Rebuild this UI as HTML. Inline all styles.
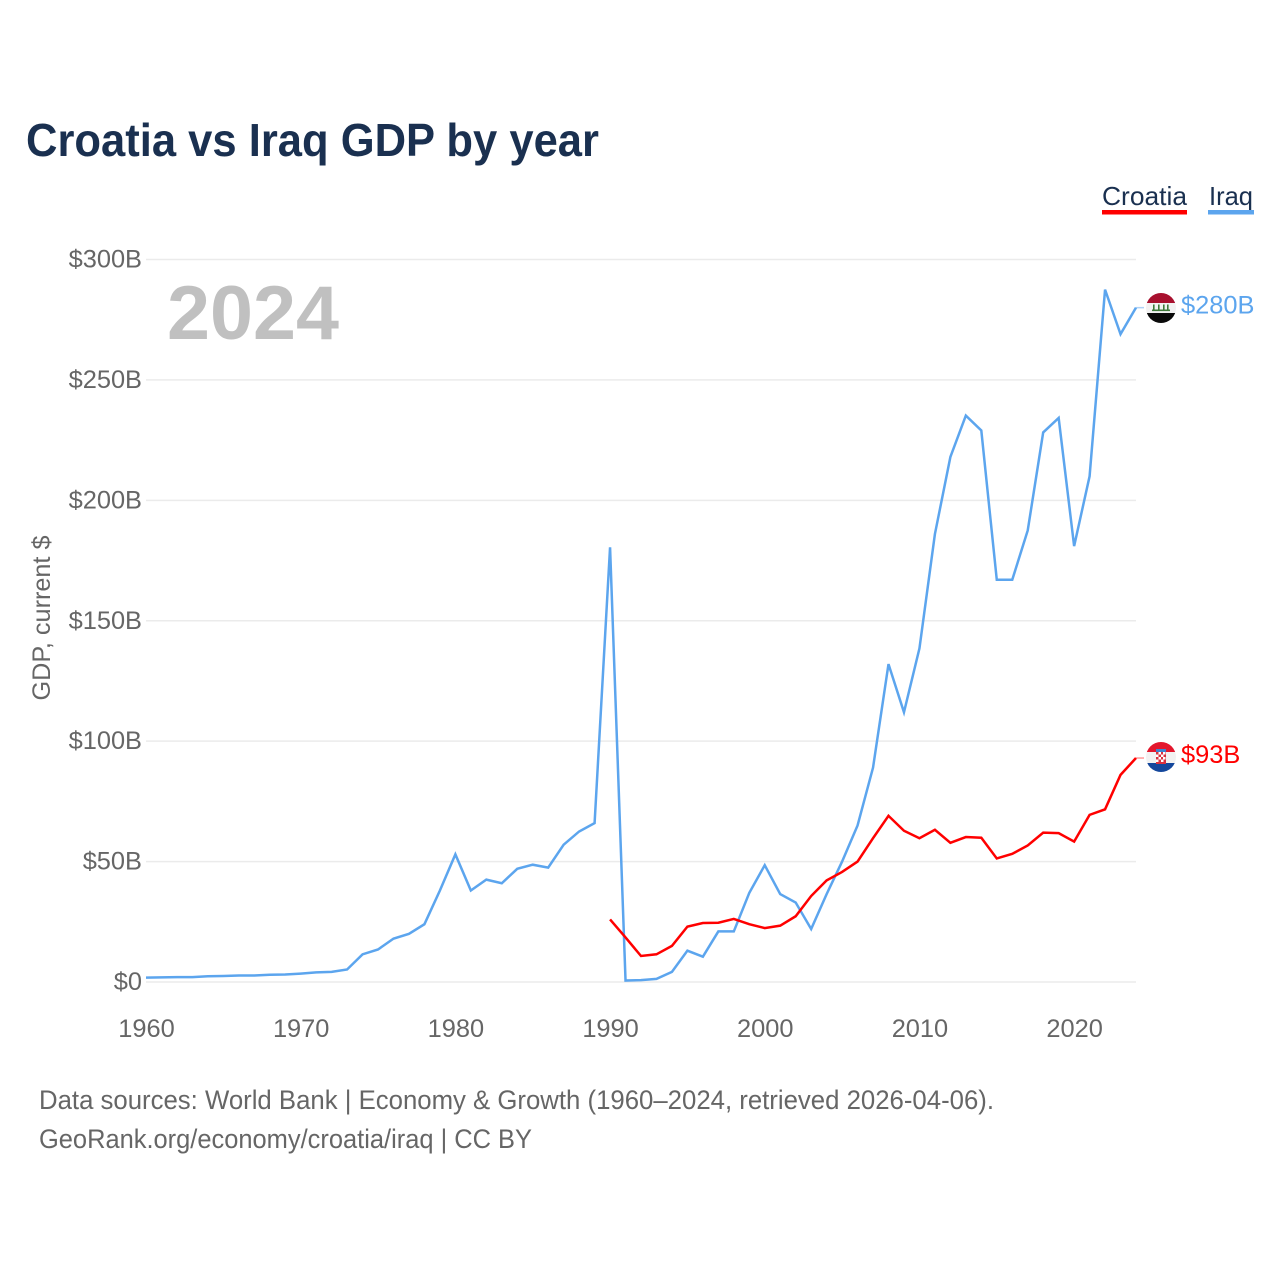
<!DOCTYPE html>
<html lang="en">
<head>
<meta charset="utf-8">
<title>Croatia vs Iraq GDP by year</title>
<style>
html,body{margin:0;padding:0;background:#fff}
svg{display:block;font-family:"Liberation Sans",sans-serif}
</style>
</head>
<body>
<svg id="chart" width="1280" height="1280" viewBox="0 0 1280 1280" xmlns="http://www.w3.org/2000/svg">
  <defs>
    <clipPath id="iraq-clip"><circle cx="1161" cy="308" r="15"/></clipPath>
    <clipPath id="croatia-clip"><circle cx="1161" cy="757" r="15"/></clipPath>
  </defs>
  <rect width="1280" height="1280" fill="#fff"/>
  <text x="26" y="156" font-size="46" font-weight="700" fill="#1a3050" textLength="573" lengthAdjust="spacingAndGlyphs">Croatia vs Iraq GDP by year</text>

  <g>
    <text x="1102" y="205" font-size="26" fill="#1a3050" textLength="85" lengthAdjust="spacingAndGlyphs">Croatia</text>
    <rect x="1102" y="210" width="85" height="4.5" fill="#ff0000"/>
  </g>
  <g>
    <text x="1209" y="205" font-size="26" fill="#1a3050" textLength="44" lengthAdjust="spacingAndGlyphs">Iraq</text>
    <rect x="1208" y="210" width="46" height="4.5" fill="#5ca5ee"/>
  </g>

  <text transform="translate(50,618) rotate(-90)" text-anchor="middle" font-size="25" fill="#666" textLength="165" lengthAdjust="spacingAndGlyphs">GDP, current $</text>

  <g id="grid"></g>
  <g id="yticks"></g>
  <g id="xticks"></g>

  <text x="167" y="339" font-size="76" font-weight="700" fill="#c0c0c0" textLength="172" lengthAdjust="spacingAndGlyphs">2024</text>

  <g id="series"></g>

  <g clip-path="url(#iraq-clip)">
    <rect x="1146" y="293" width="30" height="10" fill="#a8102e"/>
    <rect x="1146" y="303" width="30" height="10" fill="#f2f2f2"/>
    <rect x="1146" y="313" width="30" height="10" fill="#0a0a0a"/>
    <rect x="1152" y="309.5" width="18" height="1.6" fill="#3f7a3a"/>
    <rect x="1153" y="304.5" width="1.6" height="6" fill="#3f7a3a"/>
    <rect x="1158" y="304.5" width="1.6" height="6" fill="#3f7a3a"/>
    <rect x="1163" y="304.5" width="1.6" height="6" fill="#3f7a3a"/>
    <rect x="1167" y="304.5" width="1.6" height="6" fill="#3f7a3a"/>
  </g>
  <g clip-path="url(#croatia-clip)">
    <rect x="1146" y="742" width="30" height="10" fill="#e3172d"/>
    <rect x="1146" y="752" width="30" height="11" fill="#f2f2f2"/>
    <rect x="1146" y="763" width="30" height="9" fill="#14479c"/>
    <rect x="1156" y="749" width="10" height="3" fill="#3f84d0"/>
    <rect x="1156" y="752" width="10" height="12" fill="#d9313f"/>
    <rect x="1158.500" y="752" width="2.500" height="2.500" fill="#fff"/>
    <rect x="1163" y="752" width="2.500" height="2.500" fill="#fff"/>
    <rect x="1156" y="754.500" width="2.500" height="2.500" fill="#fff"/>
    <rect x="1161" y="754.500" width="2.500" height="2.500" fill="#fff"/>
    <rect x="1158.500" y="757" width="2.500" height="2.500" fill="#fff"/>
    <rect x="1163" y="757" width="2.500" height="2.500" fill="#fff"/>
    <rect x="1156" y="759.500" width="2.500" height="2.500" fill="#fff"/>
    <rect x="1161" y="759.500" width="2.500" height="2.500" fill="#fff"/>
  </g>

  <text x="39" y="1109" font-size="27" fill="#666" textLength="955" lengthAdjust="spacingAndGlyphs">Data sources: World Bank | Economy &amp; Growth (1960–2024, retrieved 2026-04-06).</text>
  <text x="39" y="1148" font-size="27" fill="#666" textLength="493" lengthAdjust="spacingAndGlyphs">GeoRank.org/economy/croatia/iraq | CC BY</text>
</svg>
<script>
const yTicks = [0, 50, 100, 150, 200, 250, 300];
const yTickLabels = ["$0", "$50B", "$100B", "$150B", "$200B", "$250B", "$300B"];
const xTicks = [1960, 1970, 1980, 1990, 2000, 2010, 2020];
const iraqStartYear = 1960;
const croatiaStartYear = 1990;
const iraqValues = [1.8, 1.9, 2.0, 2.0, 2.4, 2.5, 2.7, 2.7, 3.0, 3.1, 3.5, 4.0, 4.2, 5.2, 11.5, 13.5, 18, 20, 24, 38, 53, 38, 42.5, 41, 47, 48.7, 47.5, 57, 62.5, 66, 180.5, 0.6, 0.8, 1.3, 4.2, 13, 10.5, 21, 21, 37, 48.5, 36.5, 33, 22, 36.5, 50, 65, 89, 132, 112, 138.5, 186, 218, 235.2, 229, 167, 167, 187.5, 228.2, 234.2, 181, 210, 287.5, 269, 280];
const croatiaValues = [26, 18.5, 10.8, 11.5, 15, 23, 24.5, 24.6, 26.2, 24, 22.4, 23.4, 27.3, 35.7, 42.2, 45.7, 50, 59.7, 69, 62.8, 59.7, 63.2, 57.8, 60.2, 59.9, 51.3, 53.2, 56.7, 62, 61.8, 58.3, 69.4, 71.7, 86, 93];

const NS = "http://www.w3.org/2000/svg";
const xScale = function (year) { return 146 + (year - 1960) * (990 / 64); };
const yScale = function (v) { return 982 - v * (722.5 / 300); };

const grid = document.getElementById("grid");
const yG = document.getElementById("yticks");
const xG = document.getElementById("xticks");
const series = document.getElementById("series");

yTicks.forEach(function (v, i) {
  const line = document.createElementNS(NS, "line");
  line.setAttribute("x1", 146);
  line.setAttribute("x2", 1136);
  line.setAttribute("y1", yScale(v));
  line.setAttribute("y2", yScale(v));
  line.setAttribute("stroke", "#ebebeb");
  line.setAttribute("stroke-width", "1.5");
  
  
  grid.appendChild(line);

  const t = document.createElementNS(NS, "text");
  t.setAttribute("x", 142);
  t.setAttribute("y", yScale(v) + 8);
  t.setAttribute("text-anchor", "end");
  t.setAttribute("font-size", "25.4");
  t.setAttribute("fill", "#666");
  t.textContent = yTickLabels[i];
  
  
  yG.appendChild(t);
});

xTicks.forEach(function (year) {
  const t = document.createElementNS(NS, "text");
  t.setAttribute("x", xScale(year) + 0.5);
  t.setAttribute("y", 1037);
  t.setAttribute("text-anchor", "middle");
  t.setAttribute("font-size", "25.4");
  t.setAttribute("fill", "#666");
  t.textContent = String(year);
  
  
  xG.appendChild(t);
});

function pointsFor(values, startYear) {
  return values.map(function (v, i) {
    return xScale(startYear + i).toFixed(2) + "," + yScale(v).toFixed(2);
  }).join(" ");
}

const iraqLine = document.createElementNS(NS, "polyline");
iraqLine.setAttribute("points", pointsFor(iraqValues, iraqStartYear));
iraqLine.setAttribute("fill", "none");
iraqLine.setAttribute("stroke", "#5ca5ee");
iraqLine.setAttribute("stroke-width", "2.5");


series.appendChild(iraqLine);

const croatiaLine = document.createElementNS(NS, "polyline");
croatiaLine.setAttribute("points", pointsFor(croatiaValues, croatiaStartYear));
croatiaLine.setAttribute("fill", "none");
croatiaLine.setAttribute("stroke", "#ff0000");
croatiaLine.setAttribute("stroke-width", "2.5");


series.appendChild(croatiaLine);

const iraqLast = iraqValues[iraqValues.length - 1];
const croatiaLast = croatiaValues[croatiaValues.length - 1];

const iraqConn = document.createElementNS(NS, "line");
iraqConn.setAttribute("x1", xScale(2024));
iraqConn.setAttribute("x2", 1144);
iraqConn.setAttribute("y1", yScale(iraqLast));
iraqConn.setAttribute("y2", yScale(iraqLast));
iraqConn.setAttribute("stroke", "#5ca5ee");
iraqConn.setAttribute("stroke-opacity", "0.5");
iraqConn.setAttribute("stroke-width", "1.5");


series.appendChild(iraqConn);

const croatiaConn = document.createElementNS(NS, "line");
croatiaConn.setAttribute("x1", xScale(2024));
croatiaConn.setAttribute("x2", 1144);
croatiaConn.setAttribute("y1", yScale(croatiaLast));
croatiaConn.setAttribute("y2", yScale(croatiaLast));
croatiaConn.setAttribute("stroke", "#ff0000");
croatiaConn.setAttribute("stroke-opacity", "0.4");
croatiaConn.setAttribute("stroke-width", "1.5");


series.appendChild(croatiaConn);

const iraqEnd = document.createElementNS(NS, "text");
iraqEnd.setAttribute("x", 1181);
iraqEnd.setAttribute("y", yScale(iraqLast) + 6);
iraqEnd.setAttribute("font-size", "25.4");
iraqEnd.setAttribute("fill", "#5ca5ee");
iraqEnd.textContent = "$" + Math.round(iraqLast) + "B";


series.appendChild(iraqEnd);

const croatiaEnd = document.createElementNS(NS, "text");
croatiaEnd.setAttribute("x", 1181);
croatiaEnd.setAttribute("y", yScale(croatiaLast) + 5);
croatiaEnd.setAttribute("font-size", "25.4");
croatiaEnd.setAttribute("fill", "#ff0000");
croatiaEnd.textContent = "$" + Math.round(croatiaLast) + "B";


series.appendChild(croatiaEnd);
</script>
</body>
</html>
